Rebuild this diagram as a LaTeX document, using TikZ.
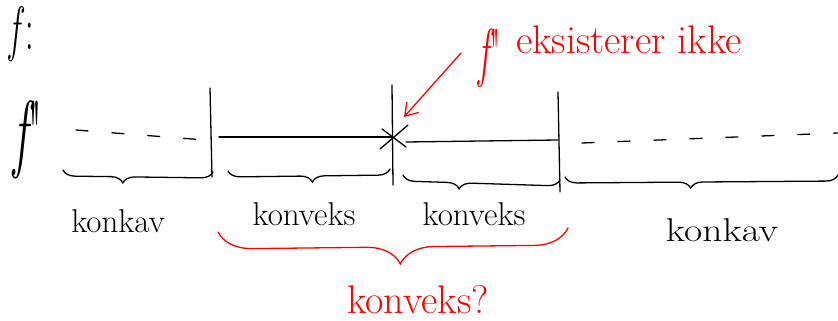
\documentclass[tikz,border=0pt]{standalone}
\usetikzlibrary{decorations.pathreplacing,arrows.meta}
\begin{document}
\begin{tikzpicture}[x=1pt,y=-1pt,
  ink/.style={black, line width=1.3pt, line cap=round},
  redink/.style={red, line width=1.3pt, line cap=round},
  hand/.style={font=\fontsize{33}{36}\selectfont, inner sep=0pt},
  redhand/.style={hand, text=red},
  tallf/.style={inner sep=0pt, font=\fontsize{#1}{#1}\selectfont, yscale=1.8},
  gap/.style={ink, dash pattern=on 12pt off 24pt},
  under/.style={ink, decorate, decoration={brace, mirror, amplitude=12pt, aspect=#1}},
  redunder/.style={redink, decorate, decoration={brace, mirror, amplitude=34pt, aspect=#1}}]
\useasboundingbox (0,0) rectangle (838,321);
\fill[white] (0,0) rectangle (838,321);

% headings
\node[tallf=34] (title) at (22,34) {\itshape f\upshape\,:};
\node[tallf=48] (fpp) at (28,140) {\itshape f\upshape\textquotedbl};

% interval borders
\coordinate (b1t) at (210,88);  \coordinate (b1b) at (212,177);
\coordinate (b2t) at (392,85);  \coordinate (b2b) at (393,185);
\coordinate (b3t) at (558,92);  \coordinate (b3b) at (560,192);
\draw[ink] (b1t) -- (b1b);
\draw[ink] (b2t) -- (b2b);
\draw[ink] (b3t) -- (b3b);

% sign line of f''
\coordinate (d1a) at (76,130);  \coordinate (d1b) at (205,140);
\coordinate (s1a) at (219,137); \coordinate (s1b) at (392,137);
\coordinate (s2a) at (406,142); \coordinate (s2b) at (558,140);
\coordinate (d2a) at (582,143); \coordinate (d2b) at (838,133);
\draw[gap] (d1a) -- (d1b);
\draw[ink] (s1a) -- (s1b);
\draw[ink] (s2a) -- (s2b);
\draw[gap] (d2a) -- (d2b);

% the point where f'' does not exist
\coordinate (cross) at (394,137);
\draw[ink] ([shift={(-14,12)}]cross) -- ([shift={(14,-12)}]cross);
\draw[ink] ([shift={(-12,-8)}]cross) -- ([shift={(12,10)}]cross);

% braces under the intervals
\coordinate (u1a) at (63,170);  \coordinate (u1b) at (213,172);
\coordinate (u2a) at (228,171); \coordinate (u2b) at (390,169);
\coordinate (u3a) at (403,175); \coordinate (u3b) at (560,180);
\coordinate (u4a) at (565,177); \coordinate (u4b) at (838,175);
\draw[under=0.4]  (u1a) -- (u1b);
\draw[under=0.52] (u2a) -- (u2b);
\draw[under=0.36] (u3a) -- (u3b);
\draw[under=0.46] (u4a) -- (u4b);

% interval labels
\node[hand] (l1) at (118,221) {konkav};
\node[hand] (l2) at (304,214) {konveks};
\node[hand] (l3) at (474,214) {konveks};
\node[hand, xscale=1.2] (l4) at (722,230) {konkav};

% red remark
\node[tallf=36, text=red] (notef) at (490,58) {\itshape f\upshape\textquotedbl};
\node[redhand, anchor=west, font=\fontsize{40}{42}\selectfont] (note) at (516,40) {eksisterer ikke};
\coordinate (tail) at (461,53);
\draw[redink, -{Straight Barb[length=12pt,width=16pt]}] (tail) -- (404,117);

\coordinate (r1) at (218,232); \coordinate (r2) at (568,228);
\draw[redunder=0.52] (r1) -- (r2);
\node[redhand, font=\fontsize{40}{42}\selectfont] (q) at (418,300) {konveks?};
\end{tikzpicture}
\end{document}
